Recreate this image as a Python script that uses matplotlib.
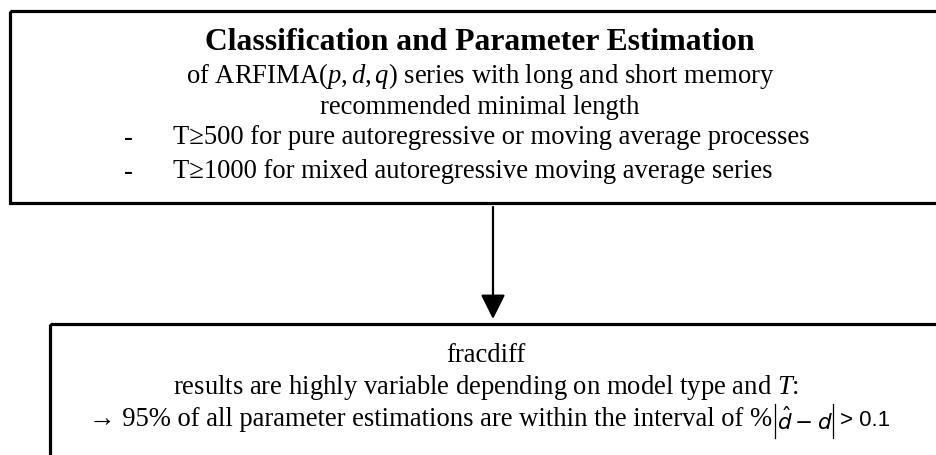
import matplotlib.pyplot as plt
from matplotlib.patches import Rectangle

# text content of the two boxes
top_title = "Classification and Parameter Estimation"
top_lines = ["of ARFIMA($\\mathit{p,d,q}$) series with long and short memory",
             "recommended minimal length"]
top_bullets = ["T\u2265500 for pure autoregressive or moving average processes",
               "T\u22651000 for mixed autoregressive moving average series"]
bottom_lines = ["fracdiff",
                "results are highly variable depending on model type and $\\mathit{T}$:"]
bottom_last = "\u2192 95% of all parameter estimations are within the interval of %"
abs_inner = "$\\hat{d}-d$"
abs_rest = "> 0.1"

plt.rcParams['font.family'] = ['Liberation Serif', 'DejaVu Serif']
plt.rcParams['mathtext.fontset'] = 'custom'
plt.rcParams['mathtext.it'] = 'Liberation Serif:italic'
plt.rcParams['mathtext.rm'] = 'Liberation Serif'

fig = plt.figure(figsize=(9.37, 4.55), dpi=100)
ax = fig.add_axes([0, 0, 1, 1])
ax.set_xlim(0, 937)
ax.set_ylim(455, 0)
ax.axis('off')

# boxes
ax.add_patch(Rectangle((10, 11), 940, 192, fill=False, lw=2.3, ec='black'))
ax.add_patch(Rectangle((50, 324), 900, 150, fill=False, lw=2.3, ec='black'))

# arrow
ax.annotate('', xy=(493, 319), xytext=(493, 207),
            arrowprops=dict(arrowstyle='-|>,head_length=1.5,head_width=0.75',
                            lw=1.6, color='black', shrinkA=0, shrinkB=0))

fs = 19.2
ax.text(480, 42, top_title, ha='center', va='center', fontsize=22.8, fontweight='bold')
for i, s in enumerate(top_lines):
    ax.text(480, 76 + i * 31, s, ha='center', va='center', fontsize=fs)
for i, s in enumerate(top_bullets):
    y = 138 + i * 34
    ax.text(128, y, "-", ha='center', va='center', fontsize=fs)
    ax.text(173, y, s, ha='left', va='center', fontsize=fs)

for i, s in enumerate(bottom_lines):
    ax.text(486, 356 + i * 32, s, ha='center', va='center', fontsize=fs)
ax.text(772, 420, bottom_last, ha='right', va='center', fontsize=fs)

# |d_hat - d| > 0.1 in a sans face with tall bars
ax.text(805, 421, abs_inner, ha='center', va='center', fontsize=15.5,
        math_fontfamily='dejavusans')
ax.plot([775, 775], [404, 438], color='black', lw=0.9)
ax.plot([833, 833], [404, 438], color='black', lw=0.9)
ax.text(840, 421, abs_rest, ha='left', va='center', fontsize=16,
        family=['Liberation Sans', 'DejaVu Sans'])

fig.savefig('out.png', dpi=100)
